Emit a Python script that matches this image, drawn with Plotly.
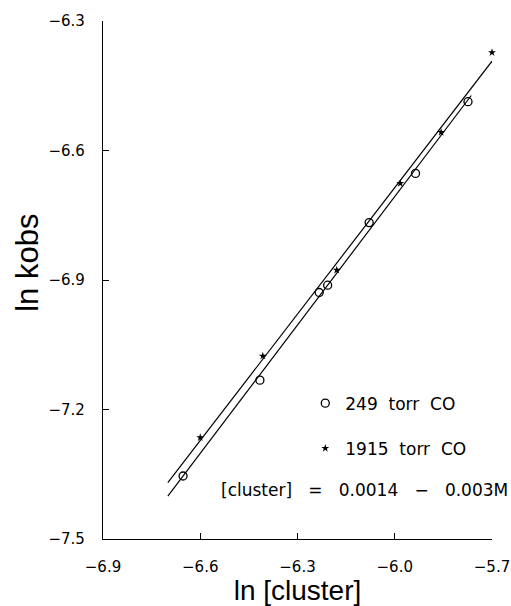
import numpy as np
import plotly.graph_objects as go

# data
x_249 = [-6.653, -6.416, -6.233, -6.207, -6.079, -5.936, -5.774]
y_249 = [-7.354, -7.132, -6.929, -6.912, -6.767, -6.653, -6.487]
x_1915 = [-6.600, -6.407, -6.179, -5.983, -5.857, -5.700]
y_1915 = [-7.265, -7.076, -6.877, -6.676, -6.558, -6.373]
fit_range_249 = [-6.70, -5.764]
fit_range_1915 = [-6.70, -5.700]
x_ticks = [-6.9, -6.6, -6.3, -6.0, -5.7]
y_ticks = [-7.5, -7.2, -6.9, -6.6, -6.3]

FONT = "DejaVu Sans"
TFONT = "Liberation Sans"
NB = "\u00a0"

p249 = np.polyfit(x_249, y_249, 1)
p1915 = np.polyfit(x_1915, y_1915, 1)

fig = go.Figure()
fig.add_trace(go.Scatter(x=fit_range_249, y=np.polyval(p249, fit_range_249), mode="lines",
                         line=dict(color="black", width=1.2), showlegend=False, hoverinfo="skip",
                         cliponaxis=False))
fig.add_trace(go.Scatter(x=fit_range_1915, y=np.polyval(p1915, fit_range_1915), mode="lines",
                         line=dict(color="black", width=1.2), showlegend=False, hoverinfo="skip",
                         cliponaxis=False))
fig.add_trace(go.Scatter(x=x_249, y=y_249, mode="markers", name=f"249{NB*2}torr{NB*2}CO", legendgroup="a",
                         cliponaxis=False,
                         marker=dict(symbol="circle-open", size=8, color="black", line=dict(width=1.3))))
fig.add_trace(go.Scatter(x=x_1915, y=y_1915, mode="markers", name=f"1915{NB*2}torr{NB*2}CO", legendgroup="b",
                         cliponaxis=False,
                         marker=dict(symbol="star", size=6, color="black")))

fig.add_annotation(text=f"[cluster]{NB*3}={NB*3}0.0014{NB*3}−{NB*3}0.003M", xref="paper", yref="paper",
                   x=1.045, y=0.095, xanchor="right", yanchor="middle", showarrow=False,
                   font=dict(family=FONT, size=17, color="black"))

# y-axis title as a rotated annotation (placed higher than plot centre, as in the reference)
fig.add_annotation(text="ln kobs", xref="paper", yref="paper", x=-0.193, y=0.533,
                   xanchor="center", yanchor="middle", textangle=-90, showarrow=False,
                   font=dict(family=TFONT, size=31, color="black"))

axis_common = dict(showgrid=False, zeroline=False, showline=True, linecolor="black", linewidth=1.2,
                   ticks="inside", ticklen=6, tickcolor="black", mirror=False, automargin=False,
                   tickfont=dict(family=FONT, size=15, color="black"))

fig.update_layout(
    width=511, height=606,
    margin=dict(l=103, r=19, t=21, b=67),
    plot_bgcolor="white", paper_bgcolor="white",
    showlegend=True,
    legend=dict(x=0.52, y=0.218, xanchor="left", yanchor="middle", bgcolor="rgba(0,0,0,0)",
                font=dict(family=FONT, size=17, color="black"), tracegroupgap=20,
                traceorder="grouped", itemwidth=30),
    xaxis=dict(range=[-6.9, -5.7], tickvals=x_ticks, ticktext=[f"{v:.1f}".replace("-", "−") for v in x_ticks],
               ticklabelstandoff=14,
               title=dict(text="ln [cluster]", font=dict(family=TFONT, size=28, color="black"), standoff=10),
               **axis_common),
    yaxis=dict(range=[-7.5, -6.3], tickvals=y_ticks, ticktext=[f"{v:.1f}".replace("-", "−") for v in y_ticks],
               ticklabelstandoff=14,
               **axis_common),
)

fig.write_html("out.html")
